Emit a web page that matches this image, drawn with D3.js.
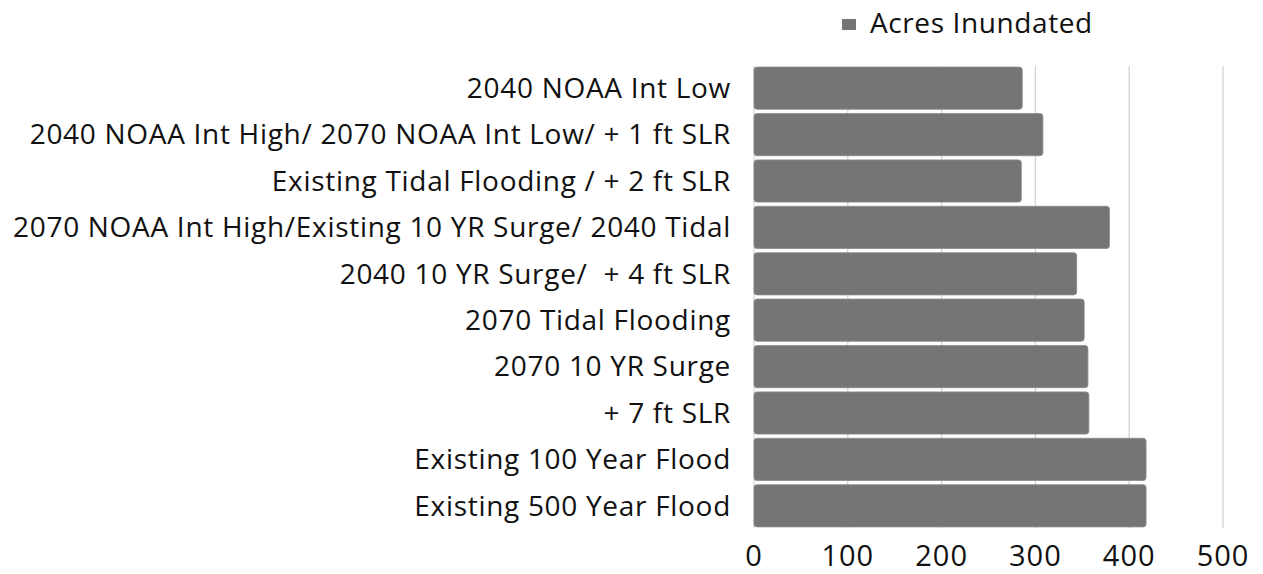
<!DOCTYPE html>
<html>
<head>
<meta charset="utf-8">
<script src="https://cdn.jsdelivr.net/npm/d3@7"></script>
<style>
  html, body { margin: 0; padding: 0; background: #fff; }
  svg { display: block; }
  text { font-family: "Open Sans", "Noto Sans", sans-serif; fill: #111; }
</style>
</head>
<body>
<svg id="chart" width="1263" height="574"></svg>
<script>
// Scenario names, top to bottom
const categories = [
  "2040 NOAA Int Low",
  "2040 NOAA Int High/ 2070 NOAA Int Low/ + 1 ft SLR",
  "Existing Tidal Flooding / + 2 ft SLR",
  "2070 NOAA Int High/Existing 10 YR Surge/ 2040 Tidal",
  "2040 10 YR Surge/  + 4 ft SLR",
  "2070 Tidal Flooding",
  "2070 10 YR Surge",
  "+ 7 ft SLR",
  "Existing 100 Year Flood",
  "Existing 500 Year Flood"
];
// Acres inundated for each scenario
const acres = [286, 308, 285, 379, 344, 352, 356, 357, 418, 418];
const xTicks = [0, 100, 200, 300, 400, 500];
const seriesName = "Acres Inundated";

const svg = d3.select("#chart");

const x = d3.scaleLinear().domain([0, 500]).range([754, 1223]);
const y = d3.scaleBand().domain(categories).range([65, 529])
  .paddingInner(0.09).paddingOuter(0.045);

// vertical gridlines
svg.append("g").selectAll("line").data(xTicks).join("line")
  .attr("x1", d => x(d)).attr("x2", d => x(d))
  .attr("y1", 66).attr("y2", 528)
  .attr("stroke", "#d4d4d4").attr("stroke-width", 1.3);

// bars
svg.append("g").selectAll("rect").data(categories).join("rect")
  .attr("x", x(0))
  .attr("y", d => y(d))
  .attr("width", (d, i) => x(acres[i]) - x(0))
  .attr("height", y.bandwidth())
  .attr("rx", 3)
  .attr("fill", "#757575")
  .attr("stroke", "#8c8c8c")
  .attr("stroke-width", 0.8);

// category labels
svg.append("g").selectAll("text").data(categories).join("text")
  .attr("x", 731)
  .attr("y", d => y(d) + y.bandwidth() / 2)
  .attr("dy", "0.35em")
  .attr("text-anchor", "end")
  .attr("font-size", 28)
  .attr("letter-spacing", 0.7)
  .style("white-space", "pre")
  .text(d => d);

// x-axis tick labels
svg.append("g").selectAll("text").data(xTicks).join("text")
  .attr("x", d => x(d))
  .attr("y", 566)
  .attr("text-anchor", "middle")
  .attr("font-size", 29)
  .attr("letter-spacing", 1)
  .text(d => d);

// legend
svg.append("rect").attr("x", 842).attr("y", 19).attr("width", 14).attr("height", 11)
  .attr("fill", "#757575");
svg.append("text").attr("x", 870).attr("y", 33)
  .attr("font-size", 28)
  .attr("letter-spacing", 0.6)
  .text(seriesName);
</script>
</body>
</html>
